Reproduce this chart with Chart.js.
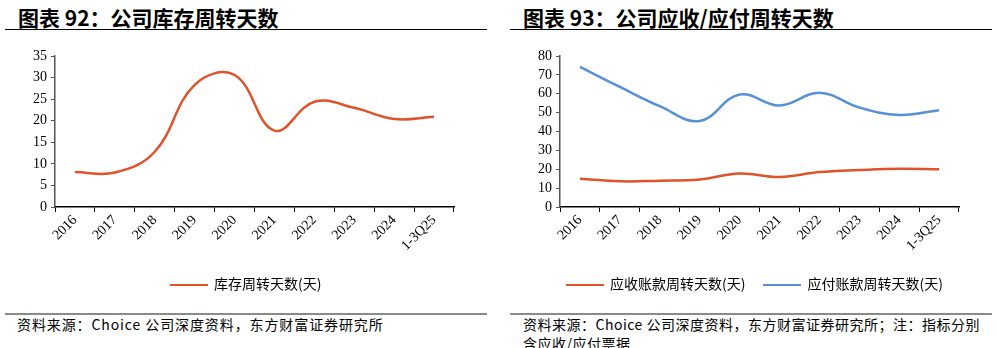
<!DOCTYPE html>
<html>
<head>
<meta charset="utf-8">
<script src="https://cdn.jsdelivr.net/npm/chart.js@4/dist/chart.umd.min.js"></script>
<style>
    body { margin: 0; width: 997px; height: 348px; background: #fff; position: relative; overflow: hidden; font-family: "Noto Sans CJK SC", sans-serif; }
    .title { position: absolute; top: 2px; font-size: 21px; font-weight: bold; color: #000; white-space: nowrap; }
    .rule { position: absolute; height: 0; border-top: 1.5px solid #000; }
    .srcRule { position: absolute; height: 0; border-top: 2px solid #8a8a8a; }
    .src { position: absolute; font-size: 14px; color: #000; line-height: 19px; letter-spacing: 0.9px; white-space: nowrap; }
    .box { position: absolute; top: 40px; width: 497px; height: 260px; }
    .legend { position: absolute; top: 273px; font-size: 14px; color: #000; white-space: nowrap; }
    .legend span.mark { display: inline-block; width: 38px; height: 0; border-top: 2.5px solid; vertical-align: middle; margin-right: 6px; }
    .legend span.item { margin-right: 18px; }
</style>
</head>
<body>
<div class="title" style="left:18px">图表 92：公司库存周转天数</div>
<div class="rule" style="left:5px; width:482px; top:29px"></div>
<div class="title" style="left:523px">图表 93：公司应收/应付周转天数</div>
<div class="rule" style="left:510px; width:482px; top:29px"></div>

<div class="box" style="left:0"><canvas id="inventoryChart"></canvas></div>
<div class="box" style="left:500px"><canvas id="turnoverChart"></canvas></div>

<div class="legend" style="left:170px" id="legendLeft"></div>
<div class="legend" style="left:566px" id="legendRight"></div>

<div class="srcRule" style="left:5px; width:482px; top:313px"></div>
<div class="src" style="left:17px; top:315px">资料来源：Choice 公司深度资料，东方财富证券研究所</div>
<div class="srcRule" style="left:510px; width:482px; top:313px"></div>
<div class="src" style="left:523px; top:315px; letter-spacing:0.5px">资料来源：Choice 公司深度资料，东方财富证券研究所；注：指标分别<br>含应收/应付票据</div>

<script>
// categories shared by both charts
const YEARS = ["2016", "2017", "2018", "2019", "2020", "2021", "2022", "2023", "2024", "1-3Q25"]

// chart 92 - inventory turnover days
const INVENTORY_DAYS = [8.1, 8.0, 12.8, 28.3, 30.6, 17.7, 24.4, 23.0, 20.4, 20.9]

// chart 93 - receivable / payable turnover days
const RECEIVABLE_DAYS = [15.0, 13.6, 13.9, 14.6, 17.8, 15.9, 18.5, 19.6, 20.3, 20.0]
const PAYABLE_DAYS = [74.2, 63.6, 53.4, 45.6, 59.6, 53.8, 60.5, 52.7, 48.8, 51.2]

const RED = '#e0522a'
const BLUE = '#5590d8'
const TICK_FONT = { family: '"Liberation Serif", "Times New Roman", serif', size: 14 }

// builds the options for one chart, yWidth and rightPad place the plot area
function makeOptions(yMax, yStep, yWidth, rightPad) {
    return {
        responsive: true,
        maintainAspectRatio: false,
        animation: false,
        layout: { padding: { left: 0, right: rightPad, top: 16, bottom: 0 } },
        plugins: { legend: { display: false }, tooltip: { enabled: false } },
        scales: {
            x: {
                offset: true,
                grid: { offset: true, drawOnChartArea: false, tickLength: 5, color: '#000', lineWidth: 1 },
                border: { color: '#000', width: 1.5 },
                ticks: { color: '#000', font: TICK_FONT, maxRotation: 45, minRotation: 45, autoSkip: false, padding: 0 },
                afterFit: (scale) => { scale.height = 93 }
            },
            y: {
                min: 0,
                max: yMax,
                grid: { drawOnChartArea: false, tickLength: 4, color: '#555' },
                border: { color: '#555', width: 1.5 },
                ticks: { stepSize: yStep, color: '#000', font: TICK_FONT, padding: 4, autoSkip: false },
                afterFit: (scale) => { scale.width = yWidth }
            }
        }
    }
}

function lineSet(label, values, color) {
    return {
        label: label,
        data: values,
        borderColor: color,
        backgroundColor: color,
        borderWidth: 2.5,
        pointRadius: 0,
        tension: 0.4,
        fill: false
    }
}

function renderLegend(id, datasets) {
    let html = ''
    datasets.forEach((ds) => {
        html += `<span class="item"><span class="mark" style="border-color:${ds.borderColor}"></span>${ds.label}</span>`
    })
    document.getElementById(id).innerHTML = html
}

const inventorySets = [lineSet('库存周转天数(天)', INVENTORY_DAYS, RED)]
new Chart(document.getElementById('inventoryChart'), {
    type: 'line',
    data: { labels: YEARS, datasets: inventorySets },
    options: makeOptions(35, 5, 55, 43)
})

const turnoverSets = [
    lineSet('应收账款周转天数(天)', RECEIVABLE_DAYS, RED),
    lineSet('应付账款周转天数(天)', PAYABLE_DAYS, BLUE)
]
new Chart(document.getElementById('turnoverChart'), {
    type: 'line',
    data: { labels: YEARS, datasets: turnoverSets },
    options: makeOptions(80, 10, 60, 38)
})

renderLegend('legendLeft', inventorySets)
renderLegend('legendRight', turnoverSets)
</script>
</body>
</html>
